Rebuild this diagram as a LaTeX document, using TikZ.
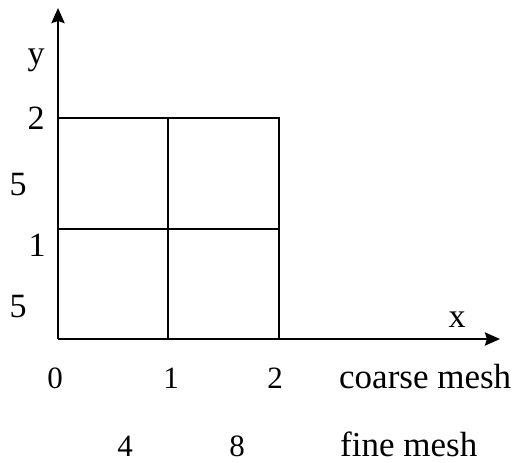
\documentclass[tikz,border=0pt]{standalone}
\usepackage{fontspec}
\setmainfont{Liberation Serif}
\usetikzlibrary{arrows.meta}
\begin{document}
\begin{tikzpicture}[x=1pt,y=-1pt,
  gridline/.style={line width=2.6pt},
  axisline/.style={line width=2.6pt,-{Stealth[length=15pt,width=13pt,inset=2pt]}},
  biglabel/.style={font=\fontsize{34}{34}\selectfont,inner sep=0pt},
  toplabel/.style={font=\fontsize{35}{35}\selectfont,inner sep=0pt,anchor=base west},
  numlabel/.style={font=\fontsize{31}{31}\selectfont,inner sep=0pt,anchor=base}]
\useasboundingbox (0,0) rectangle (517,463);
% coordinates
\coordinate (O) at (58,339);
\coordinate (ytip) at (58,8);
\coordinate (xtip) at (500,339);
\coordinate (m0) at (58,229);
\coordinate (m1) at (168,229);
\coordinate (m2) at (279,229);
\coordinate (t0) at (58,118);
\coordinate (t1) at (168,118);
\coordinate (t2) at (279,118);
\coordinate (b1) at (168,339);
\coordinate (b2) at (279,339);
% grid
\draw[gridline] (t0) -- (t2) -- (b2);
\draw[gridline] (m0) -- (m2);
\draw[gridline] (t1) -- (b1);
% axes
\draw[axisline] (O) -- (ytip);
\draw[axisline] (O) -- (xtip);
% axis labels
\node[biglabel] (ylab) at (36,60) {y};
\node[biglabel] (xlab) at (457,320) {x};
% left labels
\node[biglabel] (l2) at (36,118) {2};
\node[biglabel] (l5a) at (18,185) {5};
\node[biglabel] (l1) at (37,245) {1};
\node[biglabel] (l5b) at (18,307) {5};
% bottom labels
\node[numlabel] (n0) at (55,388) {0};
\node[numlabel] (n1) at (171,388) {1};
\node[numlabel] (n2) at (275,388) {2};
\node[toplabel] (coarse) at (339,388) {coarse mesh};
\node[numlabel] (n4) at (125,456) {4};
\node[numlabel] (n8) at (237,456) {8};
\node[toplabel] (fine) at (340,456) {fine mesh};
\end{tikzpicture}
\end{document}
